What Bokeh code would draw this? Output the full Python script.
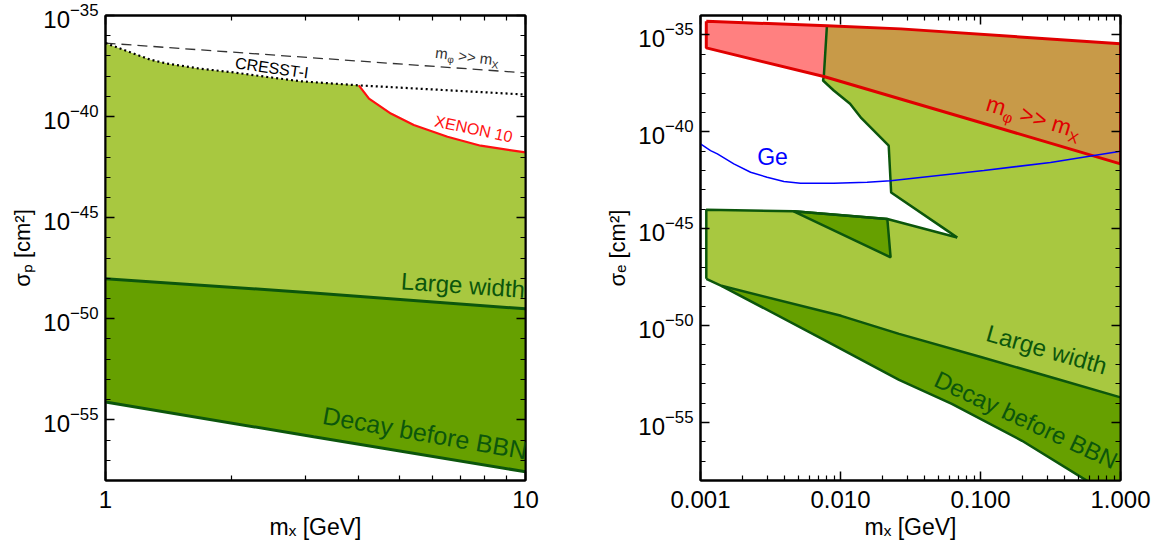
import math
from bokeh.plotting import figure
from bokeh.models import Range1d, FixedTicker, LogAxis, Label, PrintfTickFormatter, LogTickFormatter
from bokeh.layouts import row
from bokeh.embed import file_html
from bokeh.resources import INLINE

FONT = "Liberation Sans"

# ---------------- left panel data (m_X [GeV], sigma_p [cm^2]) ----------------
heavy_med_x = [1.0, 10.0]
heavy_med_sigma = [4.3e-37, 1.45e-38]

cresst_x = [1.0, 1.17, 1.28, 1.40, 1.68, 1.99, 2.43, 2.91, 4.01, 10.0]
cresst_sigma = [4.3e-37, 1.29e-37, 6.5e-38, 4.2e-38, 2.34e-38, 1.58e-38, 9.1e-39, 5.6e-39, 3.5e-39, 1.23e-39]

xenon_x = [4.01, 4.24, 4.78, 5.42, 6.52, 7.82, 10.0]
xenon_sigma = [3.5e-39, 7.8e-40, 1.41e-40, 3.8e-41, 1.0e-41, 3.63e-42, 1.7e-42]

width_p_x = [1.0, 3.13, 10.0]
width_p_sigma = [9.5e-49, 1.9e-49, 3.1e-50]

bbn_p_x = [1.0, 3.13, 10.0]
bbn_p_sigma = [7.6e-55, 1.45e-56, 2.7e-58]

# ---------------- right panel data (m_X [GeV], sigma_e [cm^2]) ----------------
red_top_x = [1.1e-3, 8.0e-3, 0.027, 1.0]
red_top_sigma = [5.0e-35, 3.0e-35, 2.04e-35, 3.5e-36]
red_bot_x = [1.1e-3, 7.6e-3, 0.1, 1.0]
red_bot_sigma = [2.14e-36, 7.1e-38, 3.0e-40, 2.2e-42]

edge_x = [8.0e-3, 7.6e-3, 7.5e-3, 8.95e-3, 0.0117, 0.0141, 0.0221, 0.0230, 0.0578, 0.0682]
edge_sigma = [3.0e-35, 7.1e-38, 4.4e-38, 1.35e-38, 2.8e-39, 5.0e-40, 1.9e-41, 7.4e-44, 7.9e-46, 3.5e-46]

shelf_x = [1.1e-3, 1.1e-3, 4.63e-3, 0.0216, 0.0682]
shelf_sigma = [2.57e-48, 9.3e-45, 7.8e-45, 3.16e-45, 3.5e-46]

tri_x = [4.63e-3, 0.0216, 0.0228]
tri_sigma = [7.8e-45, 3.16e-45, 3.3e-47]

width_e_x = [1.1e-3, 1.41e-3, 0.0101, 0.0262, 0.102, 0.353, 1.0]
width_e_sigma = [2.57e-48, 1.12e-48, 3.16e-50, 3.7e-51, 2.3e-52, 1.74e-53, 1.95e-54]

bbn_e_x = [1.41e-3, 7.8e-3, 0.0262, 0.0624, 0.198, 0.578, 1.0]
bbn_e_sigma = [1.12e-48, 1.66e-51, 1.58e-53, 8.9e-55, 1.12e-56, 9.5e-59, 7.9e-60]

ge_x = [1.0e-3, 1.18e-3, 1.32e-3, 1.73e-3, 2.28e-3, 2.99e-3, 3.94e-3, 5.18e-3, 8.95e-3, 0.0155, 0.0228, 0.1057, 0.316, 1.0]
ge_sigma = [2.34e-41, 1.07e-41, 7.2e-42, 2.19e-42, 8.1e-43, 4.5e-43, 2.7e-43, 2.19e-43, 2.19e-43, 2.45e-43, 3.0e-43, 1.0e-42, 2.6e-42, 9.8e-42]

# ---------------- ticks ----------------
left_x_ticks = [1, 10]
left_x_minor = [2, 3, 4, 5, 6, 7, 8, 9]
right_x_ticks = [0.001, 0.01, 0.1, 1.0]
right_x_minor = [k * 10.0 ** d for d in (-3, -2, -1) for k in range(2, 10)]
y_ticks = [1e-55, 1e-50, 1e-45, 1e-40, 1e-35]
y_minor = [10.0 ** e for e in range(-58, -33) if e % 5 != 0]

LIGHT = "#a8c840"
DARK = "#66a000"
EDGE = "#0c560c"
PINK = "#ff8080"
BROWN = "#c89a48"
RED = "#e00000"

# approximate Arial/Liberation Sans advance widths (em)
W = {" ": .278, ">": .584, "-": .333, "[": .278, "]": .278, "2": .556, "0": .556, "1": .556,
     "B": .667, "C": .722, "D": .722, "E": .667, "G": .778, "I": .278, "L": .556, "N": .722,
     "O": .778, "R": .722, "S": .667, "T": .611, "V": .667, "X": .667,
     "a": .556, "b": .556, "c": .5, "d": .556, "e": .556, "f": .278, "g": .556, "h": .556,
     "i": .222, "m": .833, "o": .556, "p": .556, "r": .333, "t": .278, "w": .722, "y": .5,
     "σ": .61, "φ": .65}


def text_width(s, size):
    return sum(W.get(ch, 0.556) for ch in s) * size


def make_conv(L, R, T, B, x0, x1, y0, y1):
    def conv(px, py):
        lx = x0 + (px - L) / (R - L) * (x1 - x0)
        ly = y1 - (py - T) / (B - T) * (y1 - y0)
        return 10 ** lx, 10 ** ly
    return conv


def rich_label(p, conv, px, py, runs, size, angle_deg=0.0, color="black"):
    """(px, py): page position of the centre of the text baseline."""
    x, y = conv(px, py)
    th = math.radians(angle_deg)
    ux, uy = math.cos(th), math.sin(th)
    nx, ny = -math.sin(th), math.cos(th)
    pieces, total = [], 0.0
    for txt, kind in runs:
        fs = size * (0.65 if kind != "n" else 1.0)
        lead = len(txt) - len(txt.lstrip(" "))
        pieces.append((txt.strip(" "), kind, fs, total + text_width(" " * lead, fs)))
        total += text_width(txt, fs)
    start = -total / 2
    for txt, kind, fs, d in pieces:
        shift = {"n": 0.0, "sub": -0.22 * size, "sup": 0.42 * size}[kind] + 0.35 * fs
        dd = start + d
        p.add_layout(Label(x=x, y=y, x_offset=round(dd * ux + shift * nx, 2),
                           y_offset=round(dd * uy + shift * ny, 2),
                           text=txt, angle=th, text_font=FONT, text_font_size=f"{round(fs)}px",
                           text_color=color, text_align="left", text_baseline="middle"))


def style_axis(ax, ticks, minor, show_labels, standoff):
    ax.ticker = FixedTicker(ticks=ticks, minor_ticks=minor)
    ax.axis_line_width = 2
    ax.axis_line_color = "black"
    ax.major_tick_in = 9
    ax.major_tick_out = 0
    ax.minor_tick_in = 5
    ax.minor_tick_out = 0
    ax.major_tick_line_width = 1.5
    ax.minor_tick_line_width = 1.2
    ax.major_label_text_font = FONT
    ax.major_label_text_color = "black"
    if show_labels:
        ax.major_label_text_font_size = "24px"
        ax.major_label_standoff = standoff
    else:
        ax.major_label_text_font_size = "1px"
        ax.major_label_text_alpha = 0
        ax.major_label_standoff = 0


def make_fig(width, xr, yr, borders, xfmt, xt, xm, xlabel, ylabel):
    p = figure(width=width, height=544, x_axis_type="log", y_axis_type="log",
               x_range=Range1d(*xr), y_range=Range1d(*yr), output_backend="svg",
               toolbar_location=None, min_border_left=borders[0], min_border_right=borders[1],
               min_border_top=15, min_border_bottom=64)
    p.grid.visible = False
    p.outline_line_color = "black"
    p.outline_line_width = 2
    p.background_fill_color = "white"
    p.border_fill_color = "white"
    style_axis(p.xaxis[0], xt, xm, True, 10)
    p.xaxis[0].formatter = xfmt
    style_axis(p.yaxis[0], y_ticks, y_minor, True, 7)
    p.yaxis[0].formatter = LogTickFormatter()
    for ax, lab, so, fsz in ((p.xaxis[0], xlabel, 3, "23px"), (p.yaxis[0], ylabel, 5, "22px")):
        ax.axis_label = lab
        ax.axis_label_text_font = FONT
        ax.axis_label_text_font_size = fsz
        ax.axis_label_text_font_style = "normal"
        ax.axis_label_text_color = "black"
        ax.axis_label_standoff = so
    top = LogAxis(formatter=PrintfTickFormatter(format="%d"))
    style_axis(top, xt, xm, False, 0)
    p.add_layout(top, "above")
    right = LogAxis(formatter=PrintfTickFormatter(format="%d"))
    style_axis(right, y_ticks, y_minor, False, 0)
    p.add_layout(right, "right")
    return p


# ================= left panel =================
p1 = make_fig(578, (1, 10), (1e-58, 1e-35), (105, 53), PrintfTickFormatter(format="%d"),
              left_x_ticks, left_x_minor, "mₓ [GeV]", "σₚ [cm²]")
conv1 = make_conv(105, 525, 15, 480, 0, 1, -58, -35)

p1.patch(cresst_x[:-1] + xenon_x[1:] + width_p_x[::-1],
         cresst_sigma[:-1] + xenon_sigma[1:] + width_p_sigma[::-1],
         fill_color=LIGHT, line_color=None)
p1.patch(width_p_x + bbn_p_x[::-1], width_p_sigma + bbn_p_sigma[::-1],
         fill_color=DARK, line_color=None)
p1.line(width_p_x, width_p_sigma, line_color=EDGE, line_width=3)
p1.line(bbn_p_x, bbn_p_sigma, line_color=EDGE, line_width=3)
p1.line(heavy_med_x, heavy_med_sigma, line_color="#333333", line_width=1.3, line_dash="10 6")
p1.line(cresst_x, cresst_sigma, line_color="black", line_width=2.2, line_dash="2 3")
p1.line(xenon_x, xenon_sigma, line_color="#ff1010", line_width=2.2)

rich_label(p1, conv1, 466, 61, [("m", "n"), ("φ", "sub"), (" >> m", "n"), ("X", "sub")], 15, -7, "#333333")
rich_label(p1, conv1, 271, 73, [("CRESST-I", "n")], 16, -8, "black")
rich_label(p1, conv1, 472, 134, [("XENON 10", "n")], 16, -12, "#ff1010")
rich_label(p1, conv1, 462, 293, [("Large width", "n")], 24, -4, EDGE)
rich_label(p1, conv1, 423, 441, [("Decay before BBN", "n")], 25, -10, EDGE)

# ================= right panel =================
p2 = make_fig(576, (1e-3, 1.0), (1e-58, 1e-34), (122, 34), PrintfTickFormatter(format="%.3f"),
              right_x_ticks, right_x_minor, "mₓ [GeV]", "σₑ [cm²]")
conv2 = make_conv(700, 1120, 15, 480, -3, 0, -58, -34)

p2.patch(red_top_x + red_bot_x[::-1], red_top_sigma + red_bot_sigma[::-1],
         fill_color=PINK, line_color=None)
p2.patch(red_top_x[1:] + width_e_x[::-1] + shelf_x[1:] + edge_x[::-1][1:],
         red_top_sigma[1:] + width_e_sigma[::-1] + shelf_sigma[1:] + edge_sigma[::-1][1:],
         fill_color=LIGHT, line_color=None)
p2.patch(red_top_x[1:] + red_bot_x[1:][::-1], red_top_sigma[1:] + red_bot_sigma[1:][::-1],
         fill_color=BROWN, line_color=None)
p2.patch(width_e_x[1:] + bbn_e_x[::-1], width_e_sigma[1:] + bbn_e_sigma[::-1],
         fill_color=DARK, line_color=None)
p2.patch(tri_x, tri_sigma, fill_color=DARK, line_color=EDGE, line_width=2.5)

p2.line(edge_x, edge_sigma, line_color=EDGE, line_width=2.5)
p2.line(shelf_x, shelf_sigma, line_color=EDGE, line_width=2.5)
p2.line(width_e_x, width_e_sigma, line_color=EDGE, line_width=2.5)
p2.line(bbn_e_x, bbn_e_sigma, line_color=EDGE, line_width=2.5)
p2.line(red_top_x + red_bot_x[::-1] + red_top_x[:1], red_top_sigma + red_bot_sigma[::-1] + red_top_sigma[:1],
        line_color=RED, line_width=3)
p2.line(ge_x, ge_sigma, line_color="#0000ff", line_width=1.5)

rich_label(p2, conv2, 772, 165, [("Ge", "n")], 23, 0, "#0000ff")
rich_label(p2, conv2, 1031, 124, [("m", "n"), ("φ", "sub"), (" >> m", "n"), ("X", "sub")], 23, -17, RED)
rich_label(p2, conv2, 1044, 357, [("Large width", "n")], 24, -16, EDGE)
rich_label(p2, conv2, 1022, 427, [("Decay before BBN", "n")], 24, -25, EDGE)

layout = row(p1, p2)
open("out.html", "w").write(file_html(layout, INLINE))
